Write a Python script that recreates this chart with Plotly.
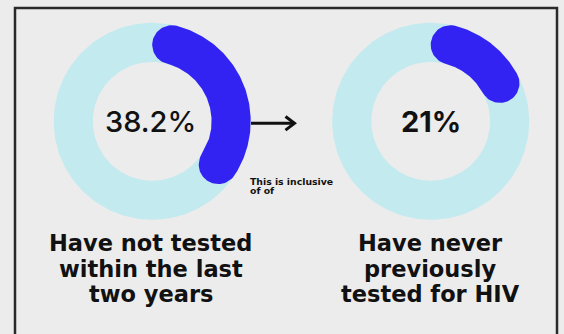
import numpy as np
import plotly.graph_objects as go

# Share of respondents shown in each ring
values = [38.2, 21]
value_labels = ["38.2%", "21%"]
captions = [
    ["Have not tested", "within the last", "two years"],
    ["Have never", "previously", "tested for HIV"],
]
note_lines = ["This is inclusive", "of of"]

W, H = 564, 334
BG = "#ececec"
TRACK = "#c3eaef"
FILL = "#3323f3"
INK = "#111111"
FONT = "Inter"
CAPTION_FONT = "DejaVu Sans"

centers = [(152.2, 121.3), (430.7, 121.3)]
R_OUT, R_IN = 98.5, 59.4
R_MID = (R_OUT + R_IN) / 2
HALF = (R_OUT - R_IN) / 2


def polar(c, r, theta):
    """Point at angle theta (deg, clockwise from 12 o'clock)."""
    t = np.radians(theta)
    return c[0] + r * np.sin(t), c[1] - r * np.cos(t)


def ring(c):
    a = np.linspace(0, 360, 241)
    xo, yo = polar(c, R_OUT, a)
    xi, yi = polar(c, R_IN, a[::-1])
    return np.r_[xo, xi], np.r_[yo, yi]


def rounded_arc(c, pct):
    """Arc with round ends whose total sweep (caps included) equals pct."""
    cap = np.degrees(np.arcsin(HALF / R_MID))
    t0, t1 = cap, pct * 3.6 - cap
    a = np.linspace(t0, t1, 120)
    xo, yo = polar(c, R_OUT, a)
    xi, yi = polar(c, R_IN, a[::-1])
    phi = np.linspace(0, np.pi, 40)

    def cap_pts(theta, sign):
        cx, cy = polar(c, R_MID, theta)
        t = np.radians(theta)
        u = np.array([np.sin(t), -np.cos(t)])
        v = np.array([np.cos(t), np.sin(t)])
        px = cx + sign * HALF * (u[0] * np.cos(phi) + v[0] * np.sin(phi))
        py = cy + sign * HALF * (u[1] * np.cos(phi) + v[1] * np.sin(phi))
        return px, py

    ex, ey = cap_pts(t1, 1)
    sx, sy = cap_pts(t0, -1)
    return np.r_[xo, ex, xi, sx], np.r_[yo, ey, yi, sy]


fig = go.Figure()
for c, v in zip(centers, values):
    x, y = ring(c)
    fig.add_trace(go.Scatter(x=x, y=y, mode="lines", fill="toself",
                             fillcolor=TRACK, line=dict(width=0),
                             hoverinfo="skip", showlegend=False))
    x, y = rounded_arc(c, v)
    fig.add_trace(go.Scatter(x=x, y=y, mode="lines", fill="toself",
                             fillcolor=FILL, line=dict(width=0),
                             hoverinfo="skip", showlegend=False))

annotations = []
weights = [500, 700]
offsets = [-2, 0]
for c, lab, w, dx in zip(centers, value_labels, weights, offsets):
    annotations.append(dict(x=c[0] + dx, y=c[1], text=lab, showarrow=False,
                            xanchor="center", yanchor="middle",
                            font=dict(family=FONT, size=29, color=INK, weight=w)))

line_y = [243, 268.5, 294]
caption_x = [150.8, 430.3]
for cx, lines in zip(caption_x, captions):
    for ly, txt in zip(line_y, lines):
        annotations.append(dict(x=cx, y=ly, text=txt, showarrow=False,
                                xanchor="center", yanchor="middle",
                                font=dict(family=CAPTION_FONT, size=22.5,
                                          color=INK, weight=700)))

for ly, txt in zip([181.7, 190.7], note_lines):
    annotations.append(dict(x=248, y=ly, text=txt, showarrow=False,
                            xanchor="left", yanchor="middle",
                            font=dict(family=CAPTION_FONT, size=9.3,
                                      color=INK, weight=700)))

shapes = [
    # frame
    dict(type="rect", x0=15, y0=8, x1=557, y1=345,
         line=dict(color="#2a2a2a", width=2.5), fillcolor="rgba(0,0,0,0)"),
    # arrow shaft and head
    dict(type="line", x0=251, y0=123.3, x1=294, y1=123.3,
         line=dict(color=INK, width=3)),
    dict(type="path", path="M 285.5 116.5 L 294.5 123.3 L 285.5 130.1",
         line=dict(color=INK, width=3)),
]

fig.update_layout(
    width=W, height=H,
    margin=dict(l=0, r=0, t=0, b=0),
    paper_bgcolor=BG, plot_bgcolor=BG,
    xaxis=dict(range=[0, W], visible=False, fixedrange=True),
    yaxis=dict(range=[H, 0], visible=False, fixedrange=True),
    annotations=annotations,
    shapes=shapes,
    showlegend=False,
)

fig.write_html("out.html")
